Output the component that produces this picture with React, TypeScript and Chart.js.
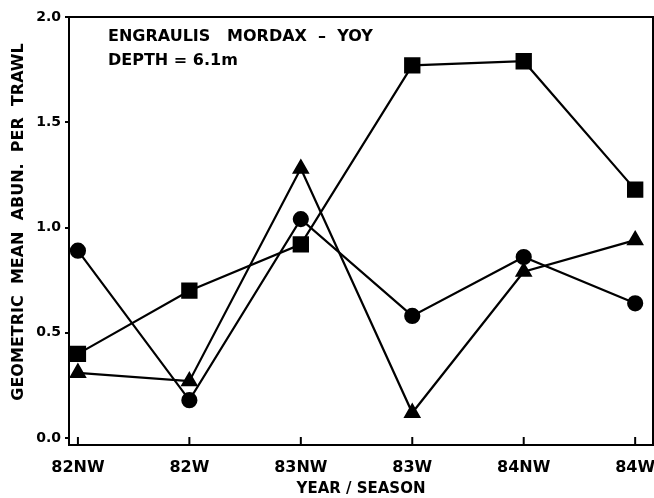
import React, { useEffect, useRef } from "react";
import { Chart, registerables } from "chart.js";

Chart.register(...registerables);

const categories = ["82NW", "82W", "83NW", "83W", "84NW", "84W"];
const squareSeries = [0.40, 0.70, 0.92, 1.77, 1.79, 1.18];
const circleSeries = [0.89, 0.18, 1.04, 0.58, 0.86, 0.64];
const triangleSeries = [0.31, 0.27, 1.28, 0.12, 0.79, 0.94];
const yTicks = [0, 0.5, 1.0, 1.5, 2.0];
const titleLine1 = "ENGRAULIS   MORDAX  –  YOY";
const titleLine2 = "DEPTH = 6.1m";
const xTitle = "YEAR / SEASON";
const yTitle = "GEOMETRIC  MEAN  ABUN.  PER  TRAWL";

const FONT = "'DejaVu Sans', sans-serif";

const framePlugin = {
  id: "frame",
  afterDraw(chart: any) {
    const { ctx, chartArea } = chart;
    const xs = chart.scales.x;
    ctx.save();
    ctx.strokeStyle = "#000";
    ctx.lineWidth = 2;
    ctx.strokeRect(chartArea.left, chartArea.top, chartArea.right - chartArea.left, chartArea.bottom - chartArea.top);
    categories.forEach((_, i) => {
      const px = xs.getPixelForValue(i);
      ctx.beginPath();
      ctx.moveTo(px, chartArea.bottom);
      ctx.lineTo(px, chartArea.bottom - 8);
      ctx.stroke();
    });
    ctx.fillStyle = "#000";
    ctx.font = `bold 16px ${FONT}`;
    ctx.textBaseline = "middle";
    ctx.textAlign = "left";
    ctx.fillText(titleLine1, chartArea.left + 39, chartArea.top + 20);
    ctx.fillText(titleLine2, chartArea.left + 39, chartArea.top + 44);
    ctx.save();
    ctx.translate(19, 222);
    ctx.rotate(-Math.PI / 2);
    ctx.textAlign = "center";
    ctx.font = `bold 16px ${FONT}`;
    ctx.fillText(yTitle, 0, 0);
    ctx.restore();
    ctx.restore();
  },
};

export default function App() {
  const ref = useRef<HTMLCanvasElement | null>(null);
  useEffect(() => {
    if (!ref.current) return;
    const mk = (vals: number[]) => vals.map((v, i) => ({ x: i, y: v }));
    const base = {
      borderColor: "#000",
      backgroundColor: "#000",
      pointBackgroundColor: "#000",
      pointBorderColor: "#000",
      borderWidth: 2.2,
      tension: 0,
      fill: false,
    };
    const chart = new Chart(ref.current, {
      type: "line",
      data: {
        datasets: [
          { ...base, label: "square", data: mk(squareSeries), pointStyle: "rect", pointRadius: 10 },
          { ...base, label: "circle", data: mk(circleSeries), pointStyle: "circle", pointRadius: 7 },
          { ...base, label: "triangle", data: mk(triangleSeries), pointStyle: "triangle", pointRadius: 8 },
        ],
      },
      options: {
        animation: false,
        responsive: false,
        layout: { autoPadding: false, padding: { top: 17, right: 1, left: 0, bottom: 0 } },
        plugins: { legend: { display: false }, tooltip: { enabled: false } },
        scales: {
          x: {
            type: "linear",
            min: -0.08,
            max: 5.16,
            afterFit: (s: any) => { s.height = 53; s.paddingLeft = 0; s.paddingRight = 0; },
            ticks: {
              stepSize: 1,
              includeBounds: false,
              autoSkip: false,
              maxRotation: 0,
              padding: 13,
              color: "#000",
              font: { family: FONT, size: 16, weight: "bold" },
              callback: (v: any) => (categories[v] !== undefined && Number.isInteger(v) ? categories[v] : ""),
            },
            grid: { drawOnChartArea: false, drawTicks: false },
            border: { display: true, color: "#000", width: 2 },
            title: {
              display: true,
              text: xTitle,
              color: "#000",
              font: { family: FONT, size: 15, weight: "bold" },
              padding: { top: 0, bottom: 0 },
            },
          },
          y: {
            min: -0.033,
            max: 2.0,
            afterFit: (s: any) => { s.width = 69; s.paddingTop = 0; s.paddingBottom = 0; },
            afterBuildTicks: (s: any) => { s.ticks = yTicks.map((v) => ({ value: v })); },
            ticks: {
              padding: 4,
              color: "#000",
              font: { family: FONT, size: 14, weight: "bold" },
              callback: (v: any) => Number(v).toFixed(1),
            },
            grid: { drawOnChartArea: false, drawTicks: true, tickLength: 4, color: "#000", lineWidth: 2 },
            border: { display: true, color: "#000", width: 2 },
            title: { display: false },
          },
        },
      },
      plugins: [framePlugin],
    } as any);
    return () => chart.destroy();
  }, []);
  return (
    <div style={{ position: "absolute", left: 0, top: 0, width: 654, height: 498, background: "#fff" }}>
      <canvas ref={ref} width={654} height={498} style={{ width: 654, height: 498 }} />
    </div>
  );
}
